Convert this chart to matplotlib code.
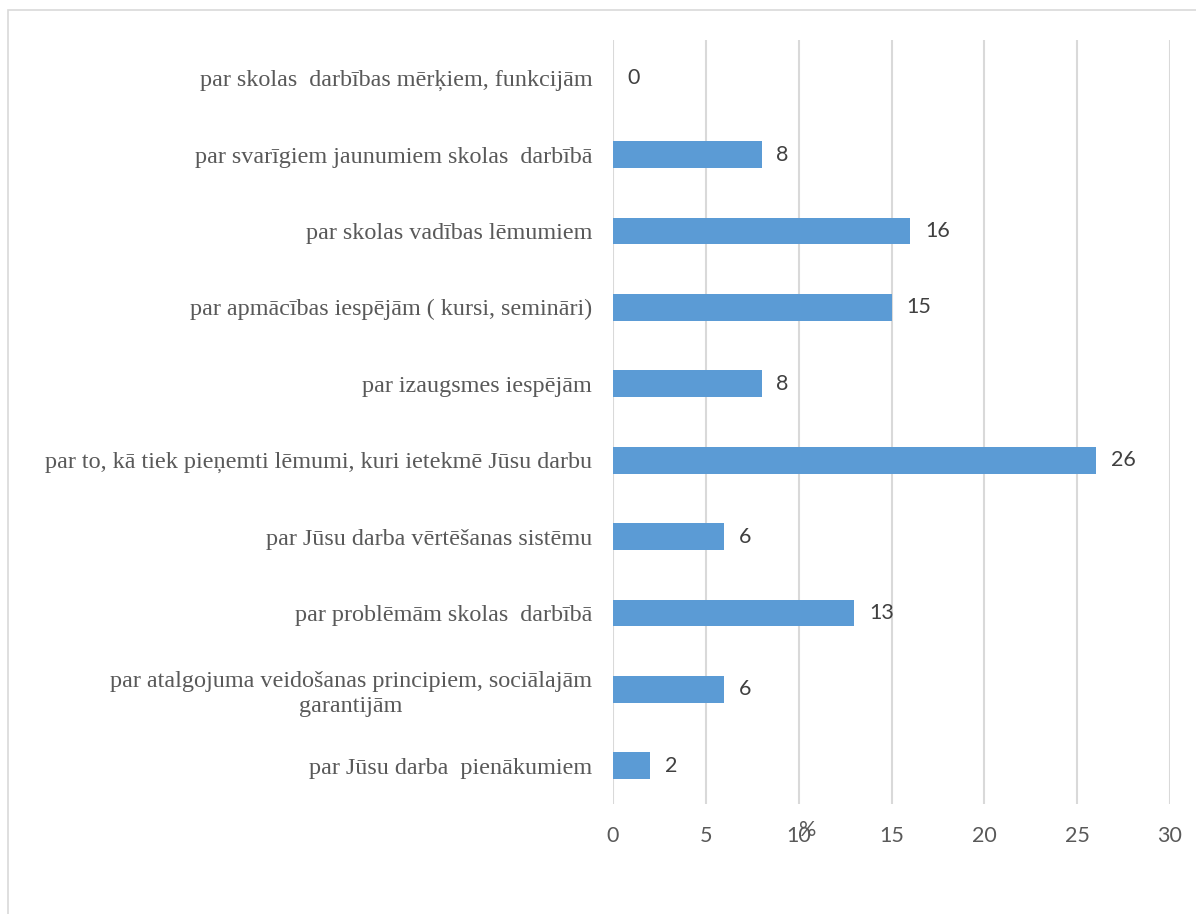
import matplotlib.pyplot as plt
import numpy as np
from matplotlib.patches import Rectangle

categories = [
    "par skolas  darbības mērķiem, funkcijām",
    "par svarīgiem jaunumiem skolas  darbībā",
    "par skolas vadības lēmumiem",
    "par apmācības iespējām ( kursi, semināri)",
    "par izaugsmes iespējām",
    "par to, kā tiek pieņemti lēmumi, kuri ietekmē Jūsu darbu",
    "par Jūsu darba vērtēšanas sistēmu",
    "par problēmām skolas  darbībā",
    "par atalgojuma veidošanas principiem, sociālajām\ngarantijām",
    "par Jūsu darba  pienākumiem",
]
values = [0, 8, 16, 15, 8, 26, 6, 13, 6, 2]
x_ticks = [0, 5, 10, 15, 20, 25, 30]

BAR = "#5B9BD5"
GRID = "#D9D9D9"
TEXT = "#595959"

fig = plt.figure(figsize=(11.96, 9.14), dpi=100)
W, H = 1196, 914

# outer chart frame
fig.patches.append(Rectangle((8 / W, -0.01), 1.2, 1 - 10 / H + 0.01,
                             transform=fig.transFigure, fill=False,
                             edgecolor=GRID, linewidth=1.2))

ax = fig.add_axes([613 / W, 1 - 804 / H, (1170 - 613) / W, (804 - 40) / H])

y = np.arange(len(categories))[::-1]
ax.barh(y, values, height=0.35, color=BAR, zorder=2)

for yi, v in zip(y, values):
    ax.text(v + 0.8, yi, str(v), va="center", ha="left", fontsize=15.5,
            color="#404040", family="Lato")

ax.set_xlim(0, 30)
ax.set_ylim(-0.5, len(categories) - 0.5)
ax.set_xticks(x_ticks)
ax.set_xticklabels([str(t) for t in x_ticks], family="Lato", fontsize=15.5, color=TEXT)
ax.set_yticks(y)
ax.set_yticklabels(categories, family="Liberation Serif", fontsize=17.4,
                   color=TEXT, ha="right", multialignment="center",
                   linespacing=1.25)
ax.tick_params(axis="both", length=0)
ax.tick_params(axis="x", pad=16)
ax.tick_params(axis="y", pad=15)
ax.grid(axis="x", color=GRID, linewidth=1.5, zorder=0)
for s in ax.spines.values():
    s.set_visible(False)

ax.set_xlabel("%", family="Lato", fontsize=15.5, color=TEXT)
ax.xaxis.set_label_coords((808 - 613) / (1170 - 613), -(820 - 804) / (804 - 40))

fig.savefig("out.png", dpi=100)
